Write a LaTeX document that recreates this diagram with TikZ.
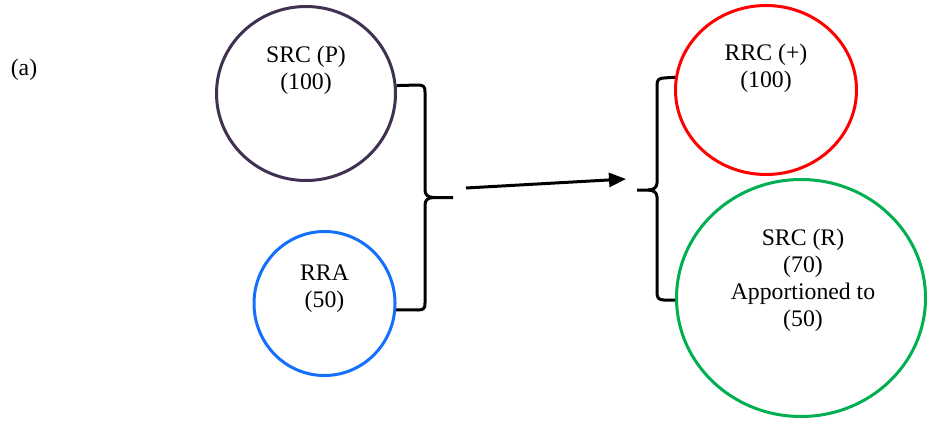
\documentclass[tikz,border=0pt]{standalone}
\usepackage{fontspec}
\setmainfont{Liberation Serif}
\usetikzlibrary{shapes.geometric,arrows.meta}

\begin{document}
\begin{tikzpicture}[x=0.75pt,y=0.75pt,yscale=-1,xscale=1,
  ring/.style={draw,ellipse,line width=2.25pt,inner sep=0pt},
  lbl/.style={align=center,inner sep=0.75pt,font=\fontsize{17.8pt}{20.25pt}\selectfont},
  brace/.style={draw=black,line width=2.25pt,line join=round},
  push/.style={draw=black,line width=2.25pt,-{Triangle[length=12.75pt,width=10.5pt]}}]

\useasboundingbox (0,0) rectangle (927,421);

%Circles
\node [ring,draw={rgb, 255:red, 64; green, 49; blue, 82 },minimum width=134.25pt,minimum height=130.5pt] (srcP) at (306,93.5) {};
\node [ring,draw={rgb, 255:red, 20; green, 112; blue, 250 },minimum width=105.75pt,minimum height=108pt] (rra) at (324.5,303.5) {};
\node [ring,draw={rgb, 255:red, 255; green, 0; blue, 0 },minimum width=135.75pt,minimum height=126.75pt] (rrc) at (766,90) {};
\node [ring,draw={rgb, 255:red, 0; green, 176; blue, 80 },minimum width=186.75pt,minimum height=177.75pt] (srcR) at (801,298) {};

% Text Node
\node [lbl] (tagA) at (24,70) {(a)};
\node [lbl] (srcPtxt) at (306,70) {SRC (P)\\(100)};
\node [lbl] (rratxt) at (324.5,289) {RRA\\(50)};
\node [lbl] (rrctxt) at (766,68) {RRC (+)\\(100)};
\node [lbl] (srcRtxt) at (803,280) {SRC (R)\\(70)\\Apportioned to\\(50)};

%Braces
\coordinate (lTip) at (453,197.5);
\coordinate (rTip) at (637,190);
\draw [brace] (srcP.5) -- (418,85) .. controls (424,85) and (425,87) .. (425,92) -- (425,190) .. controls (425,195) and (428,197.5) .. (434,197.5) -- (lTip);
\draw [brace] (rra.-5) -- (418,310) .. controls (424,310) and (425,308) .. (425,303) -- (425,205) .. controls (425,200) and (428,197.5) .. (434,197.5);
\draw [brace] (rrc.172) -- (664,78) .. controls (659,78) and (657,80) .. (657,85) -- (657,183) .. controls (657,187) and (654,190) .. (648,190) -- (rTip);
\draw [brace] (srcR.181) -- (664,300) .. controls (659,300) and (657,298) .. (657,293) -- (657,197) .. controls (657,193) and (654,190) .. (648,190);

%Arrow
\coordinate (arrFrom) at (466,188);
\coordinate (arrTo) at (626,179);
\draw [push] (arrFrom) -- (arrTo);

\end{tikzpicture}
\end{document}
